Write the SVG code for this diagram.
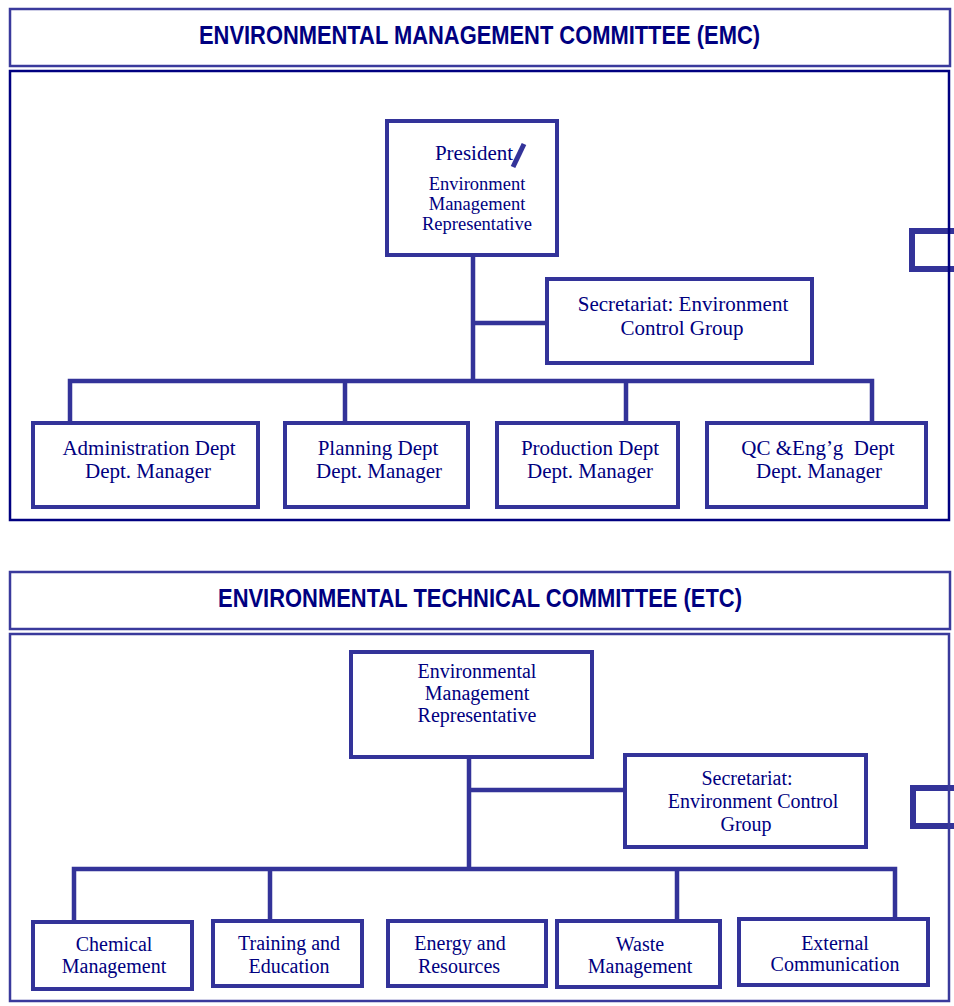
<svg xmlns="http://www.w3.org/2000/svg" width="954" height="1006" viewBox="0 0 954 1006">
<style>
.frame{fill:none;stroke:#3a3a9c;stroke-width:2.5}
.dark{fill:none;stroke:#000080;stroke-width:2.5}
.box{fill:#fff;stroke:#333399;stroke-width:4}
.sq{fill:none;stroke:#333399;stroke-width:6}
.conn{fill:none;stroke:#333399;stroke-width:4.5}
.title{font-family:"Liberation Sans",Arial,sans-serif;font-weight:bold;font-size:25px;fill:#000080}
.t{font-family:"Liberation Serif","Times New Roman",serif;font-size:20px;fill:#000080;text-anchor:middle;white-space:pre}
.b{font-size:21px}
.s{font-size:18.5px}
</style>
<rect width="954" height="1006" fill="#fff"/>
<g id="emc-title">
<rect class="frame" x="10" y="9" width="940" height="57"/>
<text class="title" x="199" y="44" textLength="561" lengthAdjust="spacingAndGlyphs">ENVIRONMENTAL MANAGEMENT COMMITTEE (EMC)</text>
</g>
<g id="emc-frame">
<rect class="sq" x="912" y="231" width="60" height="38"/>
<rect class="dark" x="10" y="71" width="939" height="449"/>
</g>
<g id="connectors">
<path class="conn" d="M473 257V381M473 323H547M70 423V381H872V423M345 381V423M626 381V423"/>
<path class="conn" d="M469 759V869M469 790H625M74 922V869H895V919M270 869V921M677 869V921"/>
</g>
<g id="president">
<rect class="box" x="387" y="121" width="170" height="134"/>
<text class="t b" x="474" y="160">President</text>
<line x1="513" y1="167" x2="524" y2="144" stroke="#333399" stroke-width="5"/>
<text class="t s" x="477" y="190">Environment</text>
<text class="t s" x="477" y="210">Management</text>
<text class="t s" x="477" y="230">Representative</text>
</g>
<g id="secretariat-emc">
<rect class="box" x="547" y="279" width="265" height="84"/>
<text class="t b" x="683" y="311">Secretariat: Environment</text>
<text class="t b" x="682" y="335">Control Group</text>
</g>
<g id="admin">
<rect class="box" x="33" y="423" width="225" height="84"/>
<text class="t b" x="149" y="455">Administration Dept</text>
<text class="t b" x="148" y="478">Dept. Manager</text>
</g>
<g id="planning">
<rect class="box" x="285" y="423" width="183" height="84"/>
<text class="t b" x="378" y="455">Planning Dept</text>
<text class="t b" x="379" y="478">Dept. Manager</text>
</g>
<g id="production">
<rect class="box" x="497" y="423" width="181" height="84"/>
<text class="t b" x="590" y="455">Production Dept</text>
<text class="t b" x="590" y="478">Dept. Manager</text>
</g>
<g id="qc">
<rect class="box" x="707" y="423" width="219" height="84"/>
<text class="t b" x="818" y="455">QC &amp;Eng’g  Dept</text>
<text class="t b" x="819" y="478">Dept. Manager</text>
</g>
<g id="etc-title">
<rect class="frame" x="10" y="572" width="940" height="57"/>
<text class="title" x="218" y="607" textLength="524" lengthAdjust="spacingAndGlyphs">ENVIRONMENTAL TECHNICAL COMMITTEE (ETC)</text>
</g>
<g id="etc-frame">
<rect class="sq" x="913" y="788" width="60" height="38"/>
<rect class="frame" x="10" y="634" width="939" height="367"/>
</g>
<g id="emr">
<rect class="box" x="351" y="652" width="241" height="105"/>
<text class="t" x="477" y="678">Environmental</text>
<text class="t" x="477" y="700">Management</text>
<text class="t" x="477" y="722">Representative</text>
</g>
<g id="secretariat-etc">
<rect class="box" x="625" y="755" width="241" height="92"/>
<text class="t" x="747" y="785">Secretariat:</text>
<text class="t" x="753" y="808">Environment Control</text>
<text class="t" x="746" y="831">Group</text>
</g>
<g id="chemical">
<rect class="box" x="33" y="922" width="159" height="67"/>
<text class="t" x="114" y="951">Chemical</text>
<text class="t" x="114" y="973">Management</text>
</g>
<g id="training">
<rect class="box" x="213" y="921" width="149" height="65"/>
<text class="t" x="289" y="950">Training and</text>
<text class="t" x="289" y="973">Education</text>
</g>
<g id="energy">
<rect class="box" x="388" y="921" width="158" height="65"/>
<text class="t" x="460" y="950">Energy and</text>
<text class="t" x="459" y="973">Resources</text>
</g>
<g id="waste">
<rect class="box" x="557" y="921" width="163" height="66"/>
<text class="t" x="640" y="951">Waste</text>
<text class="t" x="640" y="973">Management</text>
</g>
<g id="external">
<rect class="box" x="739" y="919" width="189" height="66"/>
<text class="t" x="835" y="950">External</text>
<text class="t" x="835" y="971">Communication</text>
</g>
</svg>
